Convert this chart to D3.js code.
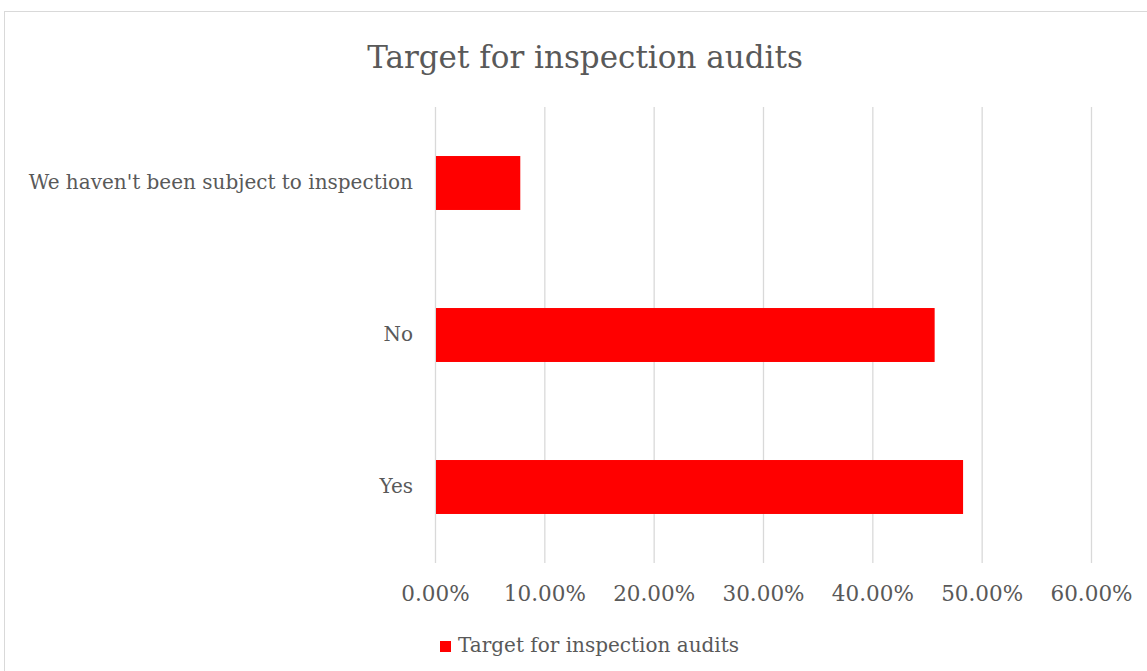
<!DOCTYPE html>
<html>
<head>
<meta charset="utf-8">
<script src="https://cdn.jsdelivr.net/npm/d3@7"></script>
<style>
  html, body { margin: 0; padding: 0; background: #fff; }
  svg { display: block; }
  text { font-family: "DejaVu Serif", "Liberation Serif", serif; fill: #595959; }
</style>
</head>
<body>
<script>
// Survey answers and their shares (percent of respondents)
const categories = ["Yes", "No", "We haven't been subject to inspection"];
const shares = [48.3, 45.7, 7.8];
const tickValues = [0, 10, 20, 30, 40, 50, 60];
const seriesName = "Target for inspection audits";
const chartTitle = "Target for inspection audits";

const W = 1147, H = 671;
const margin = { left: 435, right: 56, top: 107, bottom: 108 };
const fontFam = "'DejaVu Serif', serif";

const svg = d3.select("body").append("svg").attr("width", W).attr("height", H);

// chart area frame
svg.append("rect")
  .attr("x", 4.5).attr("y", 11.5)
  .attr("width", W + 10).attr("height", H + 10)
  .attr("fill", "#fff").attr("stroke", "#d9d9d9").attr("stroke-width", 1);

const x = d3.scaleLinear().domain([0, 60]).range([margin.left, W - margin.right]);
const y = d3.scaleBand()
  .domain(categories.slice().reverse())
  .range([margin.top, H - margin.bottom])
  .paddingInner(0.645).paddingOuter(0.3225);

// vertical gridlines
svg.append("g")
  .selectAll("line")
  .data(tickValues)
  .join("line")
  .attr("x1", d => x(d) + 0.5).attr("x2", d => x(d) + 0.5)
  .attr("y1", margin.top).attr("y2", H - margin.bottom)
  .attr("stroke", "#d9d9d9").attr("stroke-width", 1.3);

// bars
const data = categories.map((c, i) => ({ c, v: shares[i] }));
svg.append("g")
  .selectAll("rect")
  .data(data)
  .join("rect")
  .attr("x", x(0) + 1)
  .attr("y", d => y(d.c))
  .attr("width", d => x(d.v) - x(0) - 1)
  .attr("height", y.bandwidth())
  .attr("fill", "#ff0000");

// x axis tick labels
const xAxis = d3.axisBottom(x)
  .tickValues(tickValues)
  .tickFormat(d => d.toFixed(2) + "%")
  .tickSize(0).tickPadding(23);
const gx = svg.append("g")
  .attr("transform", `translate(0,${H - margin.bottom})`)
  .call(xAxis);
gx.select(".domain").remove();
gx.selectAll("text")
  .style("font-size", "21.5px")
  .style("font-family", fontFam)
  .attr("fill", "#595959");

// category labels
const yAxis = d3.axisLeft(y).tickSize(0).tickPadding(22);
const gy = svg.append("g")
  .attr("transform", `translate(${margin.left},0)`)
  .call(yAxis);
gy.select(".domain").remove();
gy.selectAll("text")
  .style("font-size", "20px")
  .style("font-family", fontFam)
  .attr("fill", "#595959");

// title
svg.append("text")
  .attr("x", 585).attr("y", 68)
  .attr("text-anchor", "middle")
  .style("font-size", "31px")
  .text(chartTitle);

// legend
const lg = svg.append("g").attr("transform", "translate(440,641)");
lg.append("rect").attr("width", 11).attr("height", 11).attr("fill", "#ff0000");
lg.append("text").attr("x", 18).attr("y", 11)
  .style("font-size", "20px")
  .text(seriesName);
</script>
</body>
</html>
